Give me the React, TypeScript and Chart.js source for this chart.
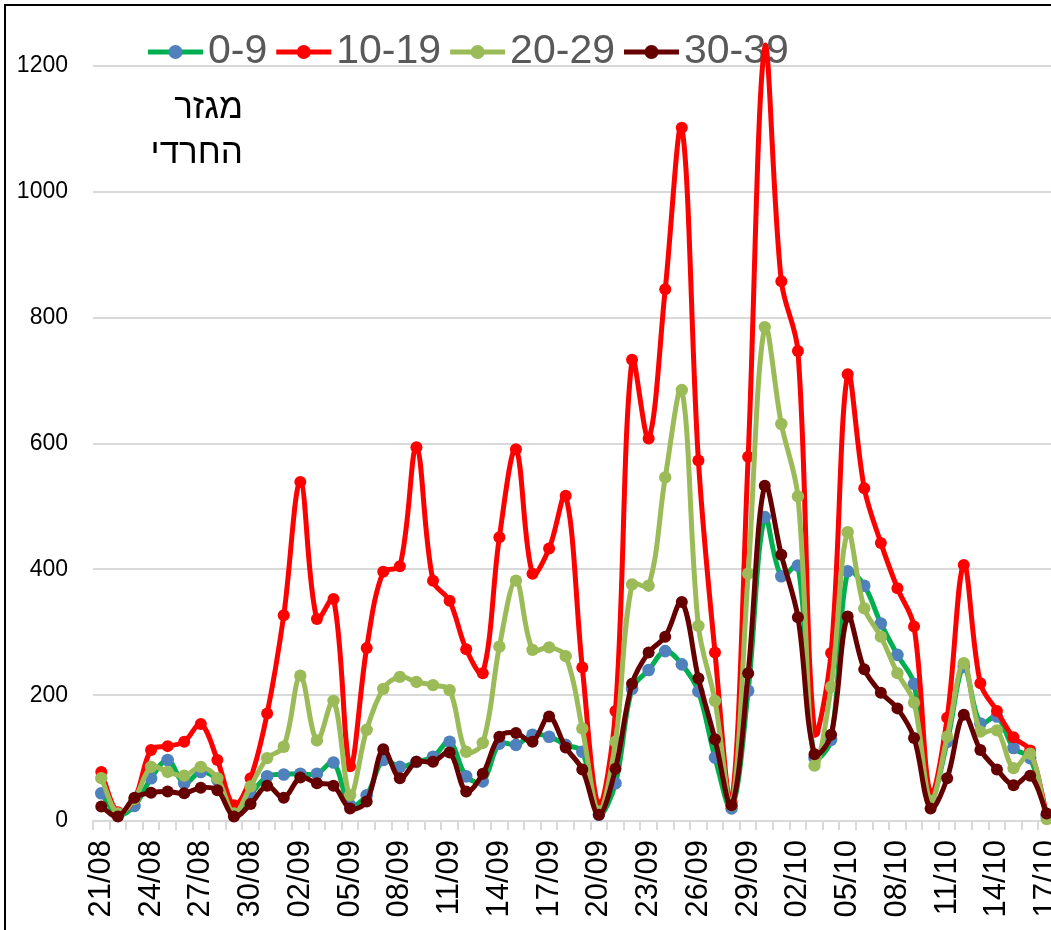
import React, { useEffect, useRef } from 'react';
import { Chart, registerables } from 'chart.js';

Chart.register(...registerables);

const dates = [
  '21/08', '22/08', '23/08', '24/08', '25/08', '26/08', '27/08', '28/08', '29/08', '30/08', '31/08',
  '01/09', '02/09', '03/09', '04/09', '05/09', '06/09', '07/09', '08/09', '09/09', '10/09',
  '11/09', '12/09', '13/09', '14/09', '15/09', '16/09', '17/09', '18/09', '19/09', '20/09',
  '21/09', '22/09', '23/09', '24/09', '25/09', '26/09', '27/09', '28/09', '29/09', '30/09',
  '01/10', '02/10', '03/10', '04/10', '05/10', '06/10', '07/10', '08/10', '09/10', '10/10',
  '11/10', '12/10', '13/10', '14/10', '15/10', '16/10', '17/10',
];

const seriesLabels = ['0-9', '10-19', '20-29', '30-39'];

const age0to9 = [44, 10, 24, 68, 97, 60, 78, 65, 10, 42, 71, 74, 75, 75, 93, 25, 41, 97, 86, 94, 102, 126, 71, 63, 123, 121, 137, 134, 121, 110, 10, 60, 210, 240, 270, 249, 206, 101, 20, 207, 483, 389, 406, 100, 129, 397, 374, 314, 264, 218, 35, 126, 245, 155, 166, 116, 100, 8];
const age10to19 = [78, 14, 35, 113, 119, 126, 154, 97, 25, 68, 171, 327, 539, 321, 353, 87, 275, 396, 405, 594, 382, 350, 273, 235, 451, 591, 393, 433, 517, 244, 25, 175, 733, 608, 845, 1102, 573, 268, 30, 579, 1230, 858, 747, 142, 267, 710, 529, 442, 370, 309, 43, 164, 407, 219, 175, 133, 112, 10];
const age20to29 = [68, 12, 35, 86, 78, 72, 86, 68, 12, 55, 100, 118, 231, 128, 191, 41, 145, 210, 229, 221, 216, 208, 110, 124, 277, 382, 272, 276, 262, 147, 15, 126, 376, 374, 546, 685, 310, 191, 25, 393, 785, 631, 516, 88, 213, 459, 338, 293, 235, 188, 32, 134, 251, 142, 144, 84, 107, 3];
const age30to39 = [23, 7, 37, 45, 47, 44, 53, 49, 7, 27, 56, 37, 69, 60, 56, 20, 31, 114, 68, 94, 94, 109, 47, 75, 134, 140, 126, 166, 117, 82, 10, 83, 218, 268, 293, 348, 227, 130, 25, 235, 533, 423, 324, 106, 137, 325, 241, 204, 179, 132, 20, 68, 169, 113, 82, 57, 72, 12];

const titleLines = ['מגזר', 'החרדי'];

const FONT = '"Liberation Sans", Arial, sans-serif';
const CANVAS_W = 1110;
const CANVAS_H = 940;

const overlayPlugin = {
  id: 'overlay',
  beforeDatasetsDraw(chart: any) {
    const ctx = chart.ctx;
    ctx.save();
    ctx.font = `41px ${FONT}`;
    ctx.textAlign = 'left';
    ctx.textBaseline = 'alphabetic';
    let x = 148;
    const ly = 52;
    chart.data.datasets.forEach((ds: any) => {
      ctx.strokeStyle = ds.borderColor;
      ctx.lineWidth = 5;
      ctx.lineCap = 'butt';
      ctx.beginPath();
      ctx.moveTo(x, ly);
      ctx.lineTo(x + 55, ly);
      ctx.stroke();
      ctx.fillStyle = ds.pointBackgroundColor;
      ctx.beginPath();
      ctx.arc(x + 27.5, ly, 7, 0, Math.PI * 2);
      ctx.fill();
      ctx.fillStyle = '#595959';
      ctx.fillText(ds.label, x + 60, 63);
      x += 60 + ctx.measureText(ds.label).width + 9;
    });
    ctx.restore();
  },
  afterDraw(chart: any) {
    const ctx = chart.ctx;
    ctx.save();
    ctx.font = `35px ${FONT}`;
    ctx.fillStyle = '#000';
    ctx.direction = 'rtl';
    ctx.textAlign = 'right';
    ctx.textBaseline = 'alphabetic';
    titleLines.forEach((t, i) => ctx.fillText(t, 243, 118 + i * 45));
    ctx.restore();
  },
};

export default function App() {
  const ref = useRef<HTMLCanvasElement | null>(null);

  useEffect(() => {
    if (!ref.current) return;
    const mk = (label: string, data: number[], line: string, point: string, r: number, order: number) => ({
      label,
      data,
      borderColor: line,
      backgroundColor: point,
      pointBackgroundColor: point,
      pointBorderColor: point,
      pointBorderWidth: 0,
      pointRadius: r,
      borderWidth: 5,
      tension: 0.35,
      clip: false as any,
      order,
    });
    const chart = new Chart(ref.current, {
      type: 'line',
      data: {
        labels: dates,
        datasets: [
          mk(seriesLabels[0], age0to9, '#00b050', '#4f81bd', 6.3, 4),
          mk(seriesLabels[1], age10to19, '#ff0000', '#ff0000', 6, 3),
          mk(seriesLabels[2], age20to29, '#9bbb59', '#9bbb59', 6.2, 2),
          mk(seriesLabels[3], age30to39, '#660000', '#660000', 6, 1),
        ],
      },
      options: {
        animation: false,
        responsive: false,
        devicePixelRatio: 1,
        layout: { padding: { top: 66, right: CANVAS_W - 1055, left: 0, bottom: 0 } },
        elements: { line: { capBezierPoints: false } },
        plugins: {
          legend: { display: false },
          tooltip: { enabled: false },
        },
        scales: {
          x: {
            offset: true,
            grid: {
              offset: true,
              drawOnChartArea: false,
              drawTicks: true,
              tickLength: 9,
              color: '#d9d9d9',
              lineWidth: 2,
            },
            border: { display: true, color: '#d9d9d9', width: 2 },
            ticks: {
              autoSkip: false,
              maxRotation: 90,
              minRotation: 90,
              padding: 10,
              color: '#000',
              font: { family: FONT, size: 31 },
              callback: (_v: any, i: number) => (i % 3 === 0 ? dates[i] : ''),
            },
            afterFit: (s: any) => {
              s.height = CANVAS_H - 821;
            },
          },
          y: {
            min: 0,
            max: 1200,
            ticks: {
              stepSize: 200,
              padding: 25,
              color: '#000',
              font: { family: FONT, size: 23 },
              callback: (v: any) => String(v),
            },
            grid: { color: '#d9d9d9', lineWidth: 2, drawTicks: false },
            border: { display: false },
            afterFit: (s: any) => {
              s.width = 93;
            },
          },
        },
      },
      plugins: [overlayPlugin],
    });
    return () => chart.destroy();
  }, []);

  return (
    <div style={{ position: 'fixed', left: 0, top: 0, width: 1051, height: 930, overflow: 'hidden', background: '#fff' }}>
      <canvas
        ref={ref}
        width={CANVAS_W}
        height={CANVAS_H}
        style={{ position: 'absolute', left: 0, top: 0, width: CANVAS_W, height: CANVAS_H }}
      />
      <div
        style={{
          position: 'absolute',
          left: 4,
          top: 4,
          width: 3000,
          height: 3000,
          borderLeft: '2px solid #000',
          borderTop: '2px solid #000',
          pointerEvents: 'none',
        }}
      />
    </div>
  );
}
